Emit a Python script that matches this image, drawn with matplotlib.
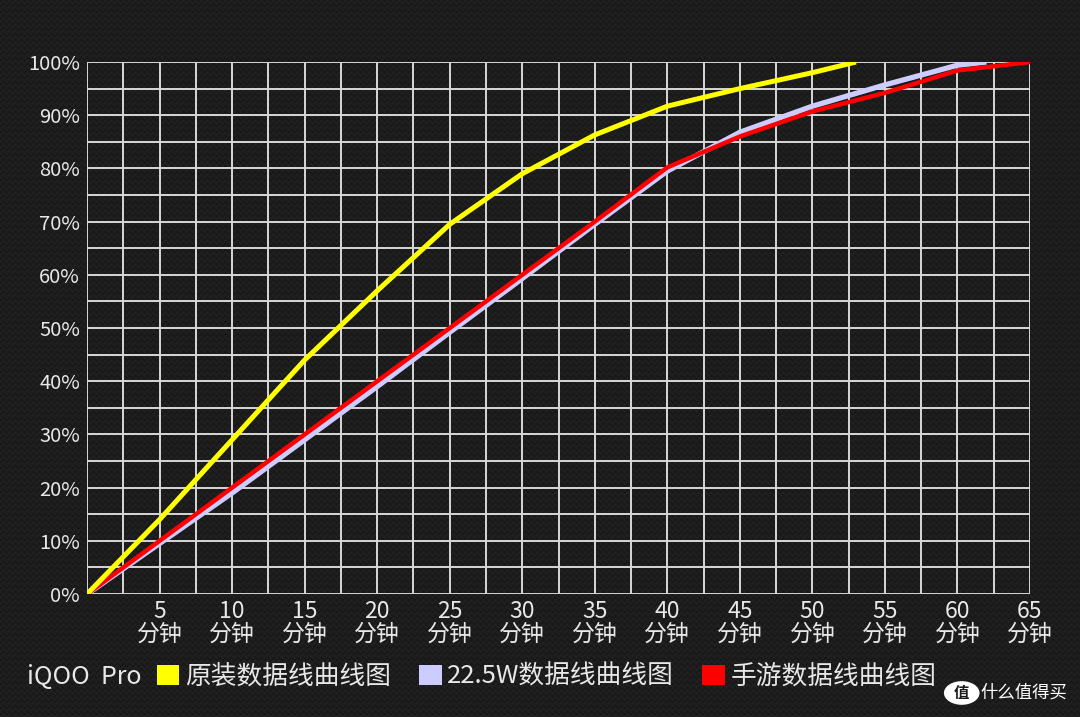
import numpy as np
import matplotlib
matplotlib.use("Agg")
import matplotlib.pyplot as plt
from matplotlib.patches import Patch, Circle

plt.rcParams['font.family'] = ['Noto Sans CJK SC', 'DejaVu Sans']

# 充电时间 (分钟) 与电量 (%)
t_orig = [0, 5, 10, 15, 20, 25, 30, 35, 40, 45, 50, 53]
p_orig = [0, 14, 29, 44, 57, 69.5, 79, 86.3, 91.7, 95, 98, 100]

t_225w = [0, 5, 10, 15, 20, 25, 30, 35, 40, 45, 50, 55, 60, 62]
p_225w = [0, 9.5, 19, 29, 39, 49.2, 59.3, 69.5, 79.5, 86.8, 91.7, 95.7, 99.4, 100]

t_game = [0, 5, 10, 15, 20, 25, 30, 35, 40, 45, 50, 55, 60, 65]
p_game = [0, 10, 20, 30, 40, 50, 60, 70, 80.2, 86, 90.7, 94.2, 98.4, 100]

x_ticks = [5, 10, 15, 20, 25, 30, 35, 40, 45, 50, 55, 60, 65]
x_labels = [f"{v}\n分钟" for v in x_ticks]
y_ticks = [0, 10, 20, 30, 40, 50, 60, 70, 80, 90, 100]
y_labels = [f"{v}%" for v in y_ticks]

names = ["原装数据线曲线图", "22.5W数据线曲线图", "手游数据线曲线图"]
colors = ["#ffff00", "#ccccff", "#ff0000"]

fig = plt.figure(figsize=(10.8, 7.17), dpi=100)
fig.patch.set_facecolor("#1a1a1a")

# carbon fibre background
h, w = 717, 1080
yy, xx = np.mgrid[0:h, 0:w]
u = (xx + yy) / 6.0
v = (xx - yy) / 6.0
weave = np.where((np.floor(u) + np.floor(v)) % 2 == 0,
                 np.abs(np.sin(np.pi * u)), np.abs(np.sin(np.pi * v)))
bg = 0.085 + 0.045 * weave
fig.figimage(np.dstack([bg, bg, bg]), xo=0, yo=0, zorder=-10)

ax = fig.add_axes([0.0806, 0.1715, 0.8731, 0.742])
ax.set_facecolor("none")
ax.set_xlim(0, 65)
ax.set_ylim(0, 100)

ax.set_xticks(x_ticks)
ax.set_xticklabels(x_labels, fontsize=16.5, color="#e8e8e8", linespacing=1.0)
ax.set_yticks(y_ticks)
ax.set_yticklabels(y_labels, fontsize=14.5, color="#e8e8e8")
ax.set_xticks(np.arange(0, 65.1, 2.5), minor=True)
ax.set_yticks(np.arange(0, 100.1, 5), minor=True)
ax.grid(which="both", color="#d8d8d8", linewidth=1.4)
ax.set_axisbelow(True)
for s in ax.spines.values():
    s.set_visible(False)

ax.tick_params(which="both", length=0)
ax.tick_params(axis="x", pad=4)
ax.tick_params(axis="y", pad=5)

ax.plot(t_225w, p_225w, color=colors[1], linewidth=3.8, solid_capstyle="butt", zorder=3)
ax.plot(t_game, p_game, color=colors[2], linewidth=3.2, solid_capstyle="butt", zorder=4)
ax.plot(t_orig, p_orig, color=colors[0], linewidth=3.6, solid_capstyle="butt", zorder=5)

fig.text(0.025, 0.056, "iQOO  Pro", fontsize=18, color="#e8e8e8", va="center")
handles = [Patch(facecolor=c, edgecolor="none") for c in colors]
leg = fig.legend(handles, names, loc="center left", bbox_to_anchor=(0.145, 0.056),
                 ncol=3, frameon=False, fontsize=18.5, labelcolor="#e8e8e8",
                 handlelength=0.876, handleheight=0.876, handletextpad=0.23,
                 columnspacing=1.09, borderpad=0, borderaxespad=0)

# watermark
fig.patches.append(Circle((0.8905, 0.0335), 0.0165, transform=fig.transFigure,
                          facecolor="white", edgecolor="none"))
fig.text(0.8905, 0.0335, "值", fontsize=11, color="#1a1a1a", ha="center", va="center",
         fontweight="bold")
fig.text(0.908, 0.0335, "什么值得买", fontsize=12.5, color="white", va="center")

fig.savefig("out.png", dpi=100, facecolor=fig.get_facecolor())
